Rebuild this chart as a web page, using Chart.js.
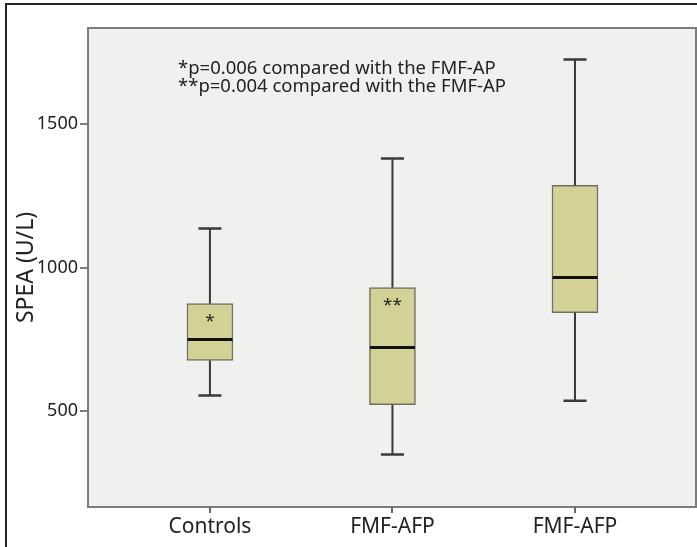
<!DOCTYPE html>
<html>
<head>
<meta http-equiv="Content-Type" content="text/html; charset=UTF-8" />
<title>SPEA box plot</title>
<style>
html, body { margin: 0; padding: 0; background: #fff; }
#wrap { width: 697px; height: 547px; }
</style>
</head>
<body>
<div id="wrap"><canvas id="chart1" width="697" height="547"></canvas></div>
<script src="https://cdn.jsdelivr.net/npm/chart.js@4/dist/chart.umd.min.js"></script>
<script>
// values
var categories = ["Controls", "FMF-AFP", "FMF-AFP"];
var whiskerLow = [554, 348, 536];
var q1 = [676, 522, 843];
var median = [749, 721, 965];
var q3 = [874, 930, 1286];
var whiskerHigh = [1136, 1380, 1725];
var boxMarks = ["*", "**", ""];
var yTicks = [500, 1000, 1500];
var notes = ["*p=0.006 compared with the FMF-AP", "**p=0.004 compared with the FMF-AP"];

var FONT = "'Noto Sans', sans-serif";

var boxData = categories.map(function(c, i) { return { x: i + 1, y: [q1[i], q3[i]] }; });

// background, frame and plot border
var framePlugin = {
	id: 'frame',
	beforeDraw: function(chart) {
		var ctx = chart.ctx, a = chart.chartArea;
		ctx.save();
		ctx.fillStyle = '#f0f0ee';
		ctx.fillRect(a.left, a.top, a.right - a.left, a.bottom - a.top);
		ctx.strokeStyle = '#222';
		ctx.lineWidth = 2;
		ctx.beginPath();
		ctx.moveTo(6, chart.height);
		ctx.lineTo(6, 4);
		ctx.lineTo(chart.width, 4);
		ctx.stroke();
		ctx.restore();
	},
	afterDraw: function(chart) {
		var ctx = chart.ctx, a = chart.chartArea, xs = chart.scales.x;
		ctx.save();
		ctx.strokeStyle = '#7c7c7c';
		ctx.lineWidth = 2;
		ctx.strokeRect(a.left, a.top, a.right - a.left, a.bottom - a.top);
		// category tick marks
		ctx.strokeStyle = '#666';
		ctx.beginPath();
		for (var i = 0; i < categories.length; i++) {
			var x = Math.round(xs.getPixelForValue(i + 1));
			ctx.moveTo(x, a.bottom);
			ctx.lineTo(x, a.bottom + 6);
		}
		ctx.stroke();
		// notes
		ctx.fillStyle = '#222';
		ctx.font = "18.5px " + FONT;
		ctx.textBaseline = 'middle';
		ctx.textAlign = 'left';
		ctx.fillText(notes[0], a.left + 90, a.top + 41);
		ctx.fillText(notes[1], a.left + 90, a.top + 59);
		ctx.restore();
	}
};

// whiskers, caps, medians, box marks
var whiskerPlugin = {
	id: 'whiskers',
	afterDatasetsDraw: function(chart) {
		var ctx = chart.ctx;
		var xs = chart.scales.x, ys = chart.scales.y;
		ctx.save();
		for (var i = 0; i < categories.length; i++) {
			var x = xs.getPixelForValue(i + 1);
			var yLo = ys.getPixelForValue(whiskerLow[i]);
			var yQ1 = ys.getPixelForValue(q1[i]);
			var yQ3 = ys.getPixelForValue(q3[i]);
			var yHi = ys.getPixelForValue(whiskerHigh[i]);
			var yMed = ys.getPixelForValue(median[i]);
			ctx.strokeStyle = '#3a3a3a';
			ctx.lineWidth = 2;
			ctx.beginPath();
			ctx.moveTo(x, yQ3); ctx.lineTo(x, yHi);
			ctx.moveTo(x, yQ1); ctx.lineTo(x, yLo);
			ctx.stroke();
			ctx.lineWidth = 2.5;
			ctx.beginPath();
			ctx.moveTo(x - 11.5, yHi); ctx.lineTo(x + 11.5, yHi);
			ctx.moveTo(x - 11.5, yLo); ctx.lineTo(x + 11.5, yLo);
			ctx.stroke();
			ctx.strokeStyle = '#111';
			ctx.lineWidth = 3;
			ctx.beginPath();
			ctx.moveTo(x - 22.5, yMed); ctx.lineTo(x + 22.5, yMed);
			ctx.stroke();
			if (boxMarks[i]) {
				ctx.fillStyle = '#222';
				ctx.font = "17px " + FONT;
				ctx.textAlign = 'center';
				ctx.textBaseline = 'top';
				ctx.fillText(boxMarks[i], x, yQ3 + 9);
			}
		}
		ctx.restore();
	}
};

new Chart(document.getElementById('chart1'), {
	type: 'bar',
	data: {
		datasets: [{
			data: boxData,
			backgroundColor: '#d4d196',
			borderColor: '#6e6e62',
			borderWidth: 1.5,
			borderSkipped: false,
			barThickness: 46
		}]
	},
	plugins: [framePlugin, whiskerPlugin],
	options: {
		responsive: false,
		animation: false,
		layout: { padding: { left: 0, top: 28, right: 1, bottom: 0 } },
		plugins: { legend: { display: false }, tooltip: { enabled: false }, title: { display: false } },
		scales: {
			x: {
				type: 'linear',
				offset: false,
				min: 0.332,
				max: 3.663,
				afterBuildTicks: function(axis) {
					axis.ticks = categories.map(function(c, i) { return { value: i + 1 }; });
				},
				afterFit: function(axis) { axis.height = 40; },
				ticks: {
					color: '#222',
					font: { family: FONT, size: 21 },
					padding: 1,
					maxRotation: 0,
					autoSkip: false,
					callback: function(v) { return categories[v - 1]; }
				},
				grid: { display: true, offset: false, drawOnChartArea: false, tickLength: 6, color: '#7c7c7c', lineWidth: 2 },
				border: { display: false }
			},
			y: {
				min: 165.5,
				max: 1834.5,
				afterBuildTicks: function(axis) {
					axis.ticks = yTicks.map(function(v) { return { value: v }; });
				},
				afterFit: function(axis) { axis.width = 88; },
				ticks: {
					color: '#222',
					font: { family: FONT, size: 18 },
					padding: 2,
					callback: function(v) { return String(v); }
				},
				grid: { display: true, drawOnChartArea: false, tickLength: 8, color: '#7c7c7c', lineWidth: 2 },
				border: { display: false },
				title: {
					display: true,
					text: 'SPEA (U/L)',
					color: '#222',
					font: { family: FONT, size: 23 },
					padding: { top: 13, bottom: 0 }
				}
			}
		}
	}
});
</script>
</body>
</html>
